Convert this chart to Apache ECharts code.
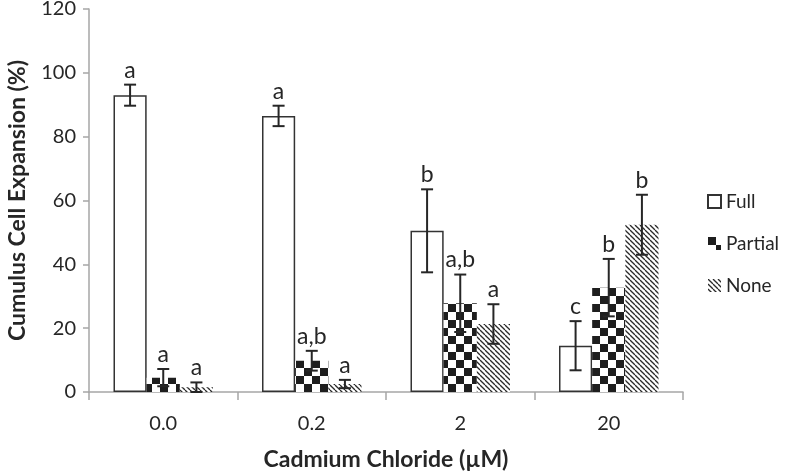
<!DOCTYPE html>
<html>
<head>
<meta charset="utf-8">
<script src="https://cdn.jsdelivr.net/npm/echarts@6/dist/echarts.min.js"></script>
<style>
  html, body { margin: 0; padding: 0; background: #fff; }
  #chart { width: 787px; height: 472px; }
</style>
</head>
<body>
<div id="chart"></div>
<script>
var categories = ['0.0', '0.2', '2', '20'];
var seriesNames = ['Full', 'Partial', 'None'];

var fullValues = [93, 86.5, 50.5, 14.5];
var partialValues = [4.5, 9.8, 27.8, 32.7];
var noneValues = [1.5, 2.5, 21.3, 52.4];

var fullErrors = [3.3, 3.2, 13, 7.7];
var partialErrors = [2.7, 3.1, 9, 9];
var noneErrors = [1.5, 1.3, 6.2, 9.4];

var fullLetters = ['a', 'a', 'b', 'c'];
var partialLetters = ['a', 'a,b', 'a,b', 'b'];
var noneLetters = ['a', 'a', 'a', 'b'];

var FONT = 'Lato, "Open Sans", sans-serif';
var DARK = '#262626';

// checkerboard fill for "Partial"
function checkerPattern() {
    var c = document.createElement('canvas');
    c.width = 16; c.height = 16;
    var ctx = c.getContext('2d');
    ctx.fillStyle = '#fff';
    ctx.fillRect(0, 0, 16, 16);
    ctx.fillStyle = '#1e1e1e';
    ctx.fillRect(0, 0, 8, 8);
    ctx.fillRect(8, 8, 8, 8);
    return c;
}

// thin "\" stripes for "None"
function stripePattern() {
    var s = 5;
    var c = document.createElement('canvas');
    c.width = s; c.height = s;
    var ctx = c.getContext('2d');
    ctx.fillStyle = '#fff';
    ctx.fillRect(0, 0, s, s);
    ctx.strokeStyle = '#2a2a2a';
    ctx.lineWidth = 1.3;
    [-s, 0, s].forEach(function (k) {
        ctx.beginPath();
        ctx.moveTo(k, 0);
        ctx.lineTo(k + s, s);
        ctx.stroke();
    });
    return c;
}

var valueSets = [fullValues, partialValues, noneValues];
var errorSets = [fullErrors, partialErrors, noneErrors];
var letterSets = [fullLetters, partialLetters, noneLetters];

var errData = [];
for (var si = 0; si < 3; si++) {
    for (var ci = 0; ci < categories.length; ci++) {
        errData.push([ci, valueSets[si][ci], errorSets[si][ci], si, letterSets[si][ci]]);
    }
}

var myChart = echarts.init(document.getElementById('chart'));

var option = {
    animation: false,
    grid: { left: 89, right: 104, top: 9, bottom: 80, outerBoundsMode: 'none' },
    legend: {
        orient: 'vertical',
        left: 702,
        top: 187,
        itemWidth: 13,
        itemHeight: 13,
        itemGap: 23,
        icon: 'rect',
        textStyle: { fontFamily: FONT, fontSize: 19, color: DARK },
        data: seriesNames
    },
    xAxis: {
        type: 'category',
        data: categories,
        name: 'Cadmium Chloride (\u00b5M)',
        nameLocation: 'middle',
        nameGap: 56,
        nameTextStyle: { fontFamily: FONT, fontSize: 23, fontWeight: 'bold', color: DARK },
        axisLine: { lineStyle: { color: '#a6a6a6', width: 1.5 } },
        axisTick: { show: true, length: 8, lineStyle: { color: '#a6a6a6', width: 1.5 } },
        axisLabel: { margin: 22, fontFamily: FONT, fontSize: 20, color: DARK }
    },
    yAxis: {
        type: 'value',
        min: 0,
        max: 120,
        interval: 20,
        name: 'Cumulus Cell Expansion (%)',
        nameLocation: 'middle',
        nameGap: 60,
        nameTextStyle: { fontFamily: FONT, fontSize: 23, fontWeight: 'bold', color: DARK },
        axisLine: { show: true, lineStyle: { color: '#a6a6a6', width: 1.5 } },
        axisTick: { show: true, length: 6, lineStyle: { color: '#a6a6a6', width: 1.5 } },
        axisLabel: { margin: 13, fontFamily: FONT, fontSize: 20, color: DARK },
        splitLine: { show: false }
    },
    series: [
        {
            name: 'Full',
            type: 'bar',
            data: fullValues,
            barGap: '0%',
            barCategoryGap: '33%',
            itemStyle: { color: '#fff', borderColor: '#333', borderWidth: 1.5 }
        },
        {
            name: 'Partial',
            type: 'bar',
            data: partialValues,
            barGap: '0%',
            barCategoryGap: '33%',
            itemStyle: { color: { image: checkerPattern(), repeat: 'repeat' } }
        },
        {
            name: 'None',
            type: 'bar',
            data: noneValues,
            barGap: '0%',
            barCategoryGap: '33%',
            itemStyle: { color: { image: stripePattern(), repeat: 'repeat' } }
        },
        {
            type: 'custom',
            silent: true,
            z: 10,
            data: errData,
            renderItem: function (params, api) {
                var ci = api.value(0);
                var val = api.value(1);
                var err = api.value(2);
                var si = api.value(3);
                var letter = errData[params.dataIndex][4];
                var catW = api.size([1, 0])[0];
                var bw = catW * 0.67 / 3;
                var x = api.coord([ci, 0])[0] + (si - 1) * bw;
                var top = api.coord([ci, val + err])[1];
                var bot = api.coord([ci, Math.max(val - err, 0)])[1];
                var cap = 6;
                var ls = { stroke: DARK, lineWidth: 2 };
                return {
                    type: 'group',
                    children: [
                        { type: 'line', shape: { x1: x, y1: top, x2: x, y2: bot }, style: ls },
                        { type: 'line', shape: { x1: x - cap, y1: top, x2: x + cap, y2: top }, style: ls },
                        { type: 'line', shape: { x1: x - cap, y1: bot, x2: x + cap, y2: bot }, style: ls },
                        {
                            type: 'text',
                            style: {
                                text: letter, x: x, y: top - 3,
                                align: 'center', verticalAlign: 'bottom',
                                textAlign: 'center', textVerticalAlign: 'bottom',
                                font: '23px ' + FONT, fill: DARK
                            }
                        }
                    ]
                };
            }
        }
    ]
};
myChart.setOption(option);
</script>
</body>
</html>
